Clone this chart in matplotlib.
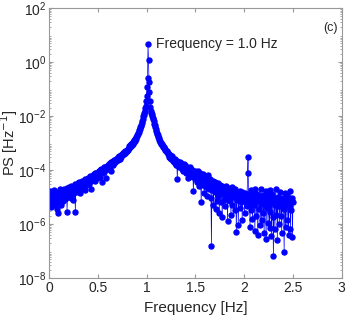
#!/usr/bin/env python3

import numpy as np
import matplotlib
matplotlib.use("Agg")
import matplotlib.pyplot as plt
from matplotlib.ticker import LogLocator, NullFormatter

plt.rcParams['font.family'] = ['Liberation Sans', 'DejaVu Sans']

#========= Data (log10 of PS, step 0.005 Hz) =================================
freq_start = 0.0
freq_step = 0.005

# 0.00 - 0.995 Hz
log_ps_left = [
    -4.85, -5.10, -4.78, -5.25, -4.95, -5.38, -4.82, -5.05, -5.20, -4.90,
    -5.02, -4.75, -5.30, -4.92, -5.12, -4.85, -5.45, -4.98, -5.60, -4.88,
    -4.80, -5.18, -4.95, -4.72, -5.28, -4.90, -5.05, -4.78, -5.15, -4.98,
    -4.85, -4.70, -5.08, -4.92, -4.76, -5.02, -4.65, -5.55, -4.88, -4.82,
    -4.70, -4.95, -4.62, -4.85, -4.75, -4.58, -5.05, -4.80, -4.68, -4.90,
    -5.10, -4.60, -4.75, -4.52, -5.55, -4.70, -4.82, -4.55, -4.65, -4.48,
    -4.50, -4.72, -4.45, -4.60, -4.85, -4.48, -4.58, -4.40, -4.65, -4.52,
    -4.62, -4.40, -4.50, -4.35, -4.75, -4.42, -4.55, -4.32, -4.48, -4.38,
    -4.30, -4.45, -4.28, -4.52, -4.35, -4.22, -4.40, -4.70, -4.30, -4.25,
    -4.20, -4.35, -4.15, -4.28, -4.12, -4.40, -4.22, -4.10, -4.30, -4.18,
    -4.08, -4.20, -4.02, -4.15, -4.00, -4.25, -4.05, -3.98, -4.12, -4.45,
    -3.95, -4.05, -3.90, -4.08, -3.88, -4.00, -3.92, -4.30, -3.85, -3.95,
    -3.88, -3.80, -3.95, -3.78, -3.90, -3.75, -3.85, -3.72, -4.05, -3.80,
    -3.72, -3.68, -3.80, -3.62, -3.75, -3.65, -3.70, -3.58, -3.66, -3.60,
    -3.58, -3.52, -3.62, -3.48, -3.55, -3.50, -3.60, -3.45, -3.52, -3.42,
    -3.45, -3.38, -3.42, -3.35, -3.40, -3.30, -3.38, -3.28, -3.35, -3.25,
    -3.28, -3.22, -3.25, -3.18, -3.20, -3.12, -3.16, -3.08, -3.12, -3.05,
    -3.06, -3.00, -3.02, -2.95, -2.96, -2.90, -2.92, -2.84, -2.85, -2.78,
    -2.75, -2.70, -2.66, -2.62, -2.58, -2.52, -2.48, -2.42, -2.38, -2.32,
    -2.25, -2.18, -2.10, -2.02, -1.95, -1.88, -1.80, -1.72, -1.62, -1.45,
]
# 1.00 - 1.045 Hz, peak at 1.015 Hz
log_ps_peak = [-1.25, -0.91, -0.58, 0.66, 0.07, -0.75, -1.10, -1.45, -1.67, -1.80]
# 1.05 - 2.50 Hz
log_ps_right = [
    -1.88, -1.93, -2.00, -2.06, -2.12, -2.20, -2.28, -2.35, -2.42, -2.48,
    -2.55, -2.62, -2.68, -2.72, -2.78, -2.82, -2.88, -2.92, -2.96, -3.02,
    -3.00, -3.08, -3.05, -3.14, -3.12, -3.20, -3.16, -3.25, -3.22, -3.30,
    -3.28, -3.35, -3.30, -3.42, -3.36, -3.45, -3.40, -3.52, -3.46, -3.55,
    -3.50, -3.60, -3.55, -3.48, -3.66, -3.58, -3.70, -3.62, -3.75, -3.60,
    -3.68, -3.80, -3.65, -4.35, -3.72, -3.85, -3.75, -3.90, -3.70, -3.82,
    -3.88, -3.75, -3.95, -3.80, -4.05, -3.85, -3.78, -4.00, -3.90, -3.82,
    -3.95, -4.10, -3.88, -4.02, -4.30, -3.92, -4.08, -3.98, -4.15, -3.90,
    -4.05, -4.22, -3.95, -4.12, -4.00, -4.25, -4.78, -4.08, -4.18, -4.02,
    -4.15, -4.32, -4.08, -4.45, -4.20, -4.05, -4.38, -4.25, -4.60, -4.12,
    -4.28, -4.50, -5.20, -4.22, -4.40, -4.15, -4.55, -4.30, -4.85, -4.35,
    -4.25, -4.62, -4.40, -4.95, -4.30, -4.55, -4.20, -4.70, -4.48, -4.38,
    -4.60, -4.35, -5.05, -6.80, -4.50, -4.75, -4.42, -5.30, -4.55, -4.68,
    -4.45, -4.82, -5.45, -4.58, -4.70, -5.15, -4.50, -4.95, -4.62, -5.60,
    -4.72, -4.55, -5.20, -4.85, -4.60, -5.75, -4.78, -4.65, -5.10, -4.90,
    -4.70, -5.35, -4.82, -4.60, -5.05, -4.75, -5.90, -4.68, -4.95, -4.80,
    -5.15, -4.72, -4.90, -5.65, -4.78, -4.62, -5.30, -4.85, -5.00, -4.75,
    -4.88, -5.50, -4.70, -4.95, -6.30, -4.80, -5.10, -4.85, -6.05, -4.92,
    -5.05, -4.78, -5.40, -4.90, -5.20, -4.82, -5.85, -4.95, -5.10, -4.88,
    -5.00, -5.60, -4.85, -5.15, -4.92, -5.35, -4.98, -4.10, -3.52, -4.95,
    -5.25, -4.88, -6.10, -5.05, -4.75, -5.50, -4.90, -5.80, -5.12, -4.85,
    -5.30, -5.02, -6.25, -4.72, -5.15, -5.70, -5.00, -4.88, -6.40, -5.10,
    -4.95, -5.45, -5.08, -6.05, -4.70, -5.25, -5.85, -5.02, -4.92, -5.60,
    -5.15, -6.35, -4.98, -5.30, -4.78, -6.55, -4.92, -5.40, -5.10, -5.95,
    -5.00, -5.25, -6.15, -4.75, -5.55, -5.10, -6.45, -5.05, -4.90, -5.75,
    -7.20, -5.20, -5.05, -6.20, -5.30, -4.72, -5.65, -5.12, -6.60, -5.00,
    -5.35, -5.08, -6.00, -5.22, -4.80, -5.70, -5.15, -6.35, -5.05, -5.40,
    -5.10, -5.45, -7.05, -4.85, -5.30, -6.10, -5.15, -4.95, -5.85, -5.25,
    -5.05, -6.40, -5.20, -5.35, -4.78, -6.20, -5.10, -5.50, -5.02, -6.50,
    -5.20,
]

peak_label = 'Frequency = 1.0 Hz'
panel_label = '(c)'

log_ps = np.array(log_ps_left + log_ps_peak + log_ps_right)
ps = 10.0 ** log_ps
freq = freq_start + freq_step * np.arange(len(ps))
ipk = int(np.argmax(ps))

#========= Plot ===========
fig = plt.figure(figsize=(3.46, 3.17), dpi=100)
ax = fig.add_axes([0.1416, 0.123, 0.846, 0.852])

blue = '#0000ff'
ax.semilogy(freq, ps, '-', color=blue, lw=0.5, marker='o', ms=3.6,
            mfc=blue, mec=blue)

ax.set_xlim(0, 3)
ax.set_ylim(1e-8, 1e2)
ax.set_xticks([0, 0.5, 1, 1.5, 2, 2.5, 3])
ax.set_xticklabels(['0', '0.5', '1', '1.5', '2', '2.5', '3'])
ax.set_yticks([1e-8, 1e-6, 1e-4, 1e-2, 1e0, 1e2])
ax.yaxis.set_minor_locator(LogLocator(base=10, subs=np.arange(2, 10), numticks=20))
ax.yaxis.set_minor_formatter(NullFormatter())

axcol = '0.6'
for s in ax.spines.values():
    s.set_color(axcol)
    s.set_linewidth(0.8)
ax.tick_params(which='both', direction='in', top=True, right=True,
               color=axcol, labelsize=10, labelcolor='0.15')
ax.tick_params(which='major', length=3)
ax.tick_params(which='minor', length=1.5)
ax.tick_params(axis='x', pad=2.5)
ax.tick_params(axis='y', pad=2)

ax.set_xlabel('Frequency [Hz]', fontsize=11, color='0.15')
ax.set_ylabel('PS [Hz$^{-1}$]', fontsize=10.5, color='0.15')
ax.xaxis.set_label_coords(0.5, -0.085)
ax.yaxis.set_label_coords(-0.098, 0.5)

ax.annotate(peak_label, xy=(freq[ipk], ps[ipk]), xytext=(6, 0),
            textcoords='offset points', fontsize=10, va='center', ha='left',
            color='0.15')
ax.text(0.985, 0.926, panel_label, transform=ax.transAxes, fontsize=9,
        ha='right', va='center', color='0.15')

fig.savefig('out.png', dpi=100)
